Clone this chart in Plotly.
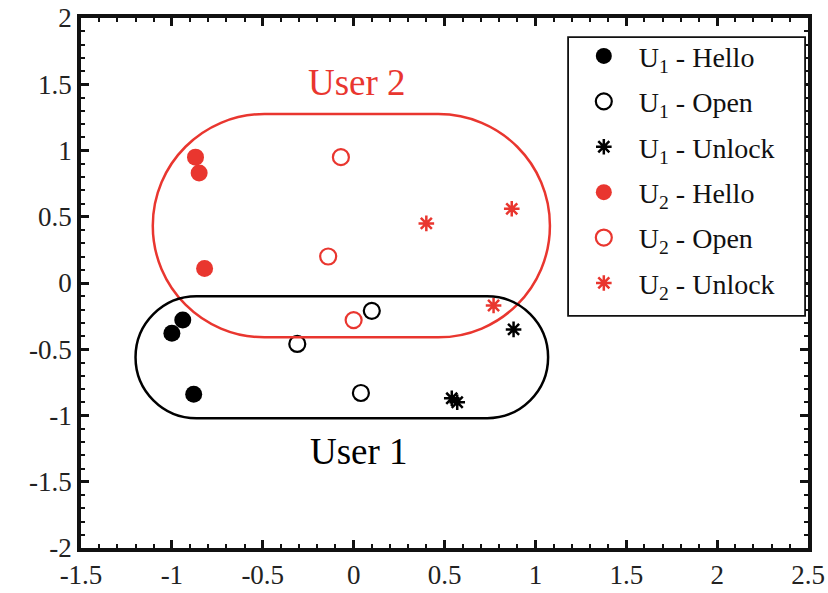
import plotly.graph_objects as go

# ---- data ----
u1_hello_x = [-1.00, -0.94, -0.88]
u1_hello_y = [-0.38, -0.28, -0.84]
u1_open_x = [-0.31, 0.10, 0.04]
u1_open_y = [-0.46, -0.21, -0.83]
u1_unlock_x = [0.54, 0.57, 0.88]
u1_unlock_y = [-0.87, -0.90, -0.35]
u2_hello_x = [-0.87, -0.85, -0.82]
u2_hello_y = [0.95, 0.83, 0.11]
u2_open_x = [-0.07, -0.14, 0.00]
u2_open_y = [0.95, 0.20, -0.28]
u2_unlock_x = [0.40, 0.87, 0.77]
u2_unlock_y = [0.45, 0.56, -0.17]

x_tickvals = [-1.5, -1, -0.5, 0, 0.5, 1, 1.5, 2, 2.5]
x_ticktext = ["-1.5", "-1", "-0.5", "0", "0.5", "1", "1.5", "2", "2.5"]
y_tickvals = [-2, -1.5, -1, -0.5, 0, 0.5, 1, 1.5, 2]
y_ticktext = ["-2", "-1.5", "-1", "-0.5", "0", "0.5", "1", "1.5", "2"]

# cluster outlines (x0, x1, y0, y1)
user2_box = (-1.105, 1.08, -0.41, 1.275)
user1_box = (-1.20, 1.07, -1.02, -0.10)

RED = "#e9362f"
BLACK = "#000000"
FONT = "Liberation Serif, Times New Roman, serif"

fig = go.Figure()

def add(x, y, name, symbol, color, size, lw=0):
    fig.add_trace(go.Scatter(
        x=x, y=y, mode="markers", name=name, legendgroup=name,
        marker=dict(symbol=symbol, color=color, size=size,
                    line=dict(color=color, width=lw)),
    ))

add(u1_hello_x, u1_hello_y, "U<sub>1</sub> - Hello", "circle", BLACK, 17)
add(u1_open_x, u1_open_y, "U<sub>1</sub> - Open", "circle-open", BLACK, 16, 2.2)
add(u1_unlock_x, u1_unlock_y, "U<sub>1</sub> - Unlock", "asterisk-open", BLACK, 13, 2.5)
add(u2_hello_x, u2_hello_y, "U<sub>2</sub> - Hello", "circle", RED, 17)
add(u2_open_x, u2_open_y, "U<sub>2</sub> - Open", "circle-open", RED, 16, 2.2)
add(u2_unlock_x, u2_unlock_y, "U<sub>2</sub> - Unlock", "asterisk-open", RED, 13, 2.5)

# plot geometry for aspect-correct rounded ends
L, R, T, B = 81, 20, 18, 45
W, H = 828, 593
xrange_ = [-1.5, 2.5]
yrange_ = [-2, 2]
px_per_x = (W - L - R) / (xrange_[1] - xrange_[0])
px_per_y = (H - T - B) / (yrange_[1] - yrange_[0])


def stadium(box):
    x0, x1, y0, y1 = box
    ry = (y1 - y0) / 2
    rx = ry * px_per_y / px_per_x
    ym = (y0 + y1) / 2
    k = 0.5523
    p = (
        f"M {x0+rx},{y1} L {x1-rx},{y1} "
        f"C {x1-rx+k*rx},{y1} {x1},{ym+k*ry} {x1},{ym} "
        f"C {x1},{ym-k*ry} {x1-rx+k*rx},{y0} {x1-rx},{y0} "
        f"L {x0+rx},{y0} "
        f"C {x0+rx-k*rx},{y0} {x0},{ym-k*ry} {x0},{ym} "
        f"C {x0},{ym+k*ry} {x0+rx-k*rx},{y1} {x0+rx},{y1} Z"
    )
    return p

fig.add_shape(type="path", path=stadium(user2_box), xref="x", yref="y",
              line=dict(color=RED, width=2.5), layer="above")
fig.add_shape(type="path", path=stadium(user1_box), xref="x", yref="y",
              line=dict(color=BLACK, width=2.5), layer="above")

# legend frame (drawn as a box behind the borderless legend)
fig.add_shape(type="rect", xref="paper", yref="paper",
              x0=0.670, x1=0.996, y0=0.438, y1=0.964,
              fillcolor="white", line=dict(color="#111111", width=1.8), layer="above")

fig.add_annotation(x=0.02, y=1.51, text="User 2", showarrow=False,
                   font=dict(family=FONT, size=37, color=RED), xref="x", yref="y")
fig.add_annotation(x=0.03, y=-1.27, text="User 1", showarrow=False,
                   font=dict(family=FONT, size=37, color=BLACK), xref="x", yref="y")

axis_common = dict(
    showgrid=False, zeroline=False, showline=True, linecolor="#111111", linewidth=3.5,
    mirror="allticks", ticks="inside", ticklen=8, tickwidth=2.5, tickcolor="#111111",
    tickfont=dict(family=FONT, size=27, color="#222222"), automargin=False,
    minor=dict(ticks="inside", ticklen=4, tickwidth=2, tickcolor="#111111", dtick=0.1),
)

fig.update_xaxes(range=xrange_, tickvals=x_tickvals, ticktext=x_ticktext, **axis_common)
fig.update_yaxes(range=yrange_, tickvals=y_tickvals, ticktext=y_ticktext, **axis_common)

fig.update_layout(
    width=W, height=H,
    margin=dict(l=L, r=R, t=T, b=B, autoexpand=False),
    plot_bgcolor="white", paper_bgcolor="white",
    font=dict(family=FONT, size=28, color="black"),
    legend=dict(
        x=0.671, y=0.975, xanchor="left", yanchor="top",
        bgcolor="rgba(0,0,0,0)", borderwidth=0,
        font=dict(family=FONT, size=28, color="#111111"),
        tracegroupgap=6, itemsizing="trace", itemwidth=60,
    ),
    showlegend=True,
)

fig.write_html("out.html")
